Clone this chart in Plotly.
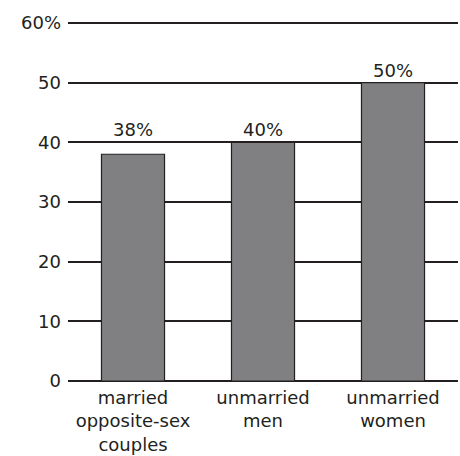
import math
import plotly.graph_objects as go

categories = ["married<br>opposite-sex<br>couples", "unmarried<br>men", "unmarried<br>women"]
shares = [38, 40, 50]
tick_values = [0, 10, 20, 30, 40, 50, 60]
tick_labels = ["0", "10", "20", "30", "40", "50", "60%"]

FONT = "'DejaVu Sans', sans-serif"
INK = "#231f20"
SIZE = 18

fig = go.Figure(
    go.Bar(
        x=categories,
        y=shares,
        width=0.485,
        marker=dict(color="#808083", line=dict(color=INK, width=1.2)),
        hoverinfo="skip",
    )
)

# value labels sit just above the first gridline at or above each bar
for cat, val in zip(categories, shares):
    fig.add_annotation(
        x=cat,
        y=math.ceil(val / 10) * 10,
        text=f"{val}%",
        showarrow=False,
        yanchor="bottom",
        yshift=0,
        font=dict(family=FONT, size=SIZE, color=INK),
    )

fig.update_layout(
    width=460,
    height=456,
    margin=dict(l=68, r=2, t=20, b=75),
    paper_bgcolor="white",
    plot_bgcolor="white",
    showlegend=False,
    font=dict(family=FONT, size=SIZE, color=INK),
    xaxis=dict(
        range=[-0.5, 2.5],
        showgrid=False,
        showline=False,
        ticks="",
        ticklabelstandoff=4,
        tickfont=dict(family=FONT, size=SIZE, color=INK),
    ),
    yaxis=dict(
        range=[0, 60.5],
        tickvals=tick_values,
        ticktext=tick_labels,
        showgrid=True,
        gridcolor=INK,
        gridwidth=1.5,
        zeroline=True,
        zerolinecolor=INK,
        zerolinewidth=1.5,
        showline=False,
        ticks="",
        ticklabelstandoff=6,
        tickfont=dict(family=FONT, size=SIZE, color=INK),
    ),
)

fig.write_html("out.html")
